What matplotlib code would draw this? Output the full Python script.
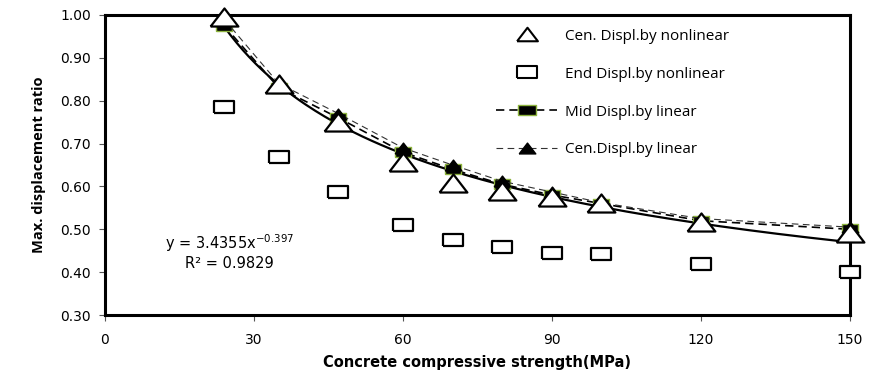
import numpy as np
import matplotlib.pyplot as plt
from matplotlib.lines import Line2D

# concrete strength (MPa) and displacement ratios
strength = [24, 35, 47, 60, 70, 80, 90, 100, 120, 150]
cen_nonlin = [0.995, 0.84, 0.75, 0.657, 0.608, 0.59, 0.575, 0.562, 0.518, 0.492]
end_nonlin = [0.785, 0.669, 0.587, 0.51, 0.476, 0.459, 0.445, 0.442, 0.418, 0.40]
mid_lin = [0.975, 0.83, 0.76, 0.68, 0.64, 0.605, 0.58, 0.56, 0.52, 0.50]
cen_lin = [0.99, 0.84, 0.77, 0.69, 0.65, 0.612, 0.587, 0.562, 0.525, 0.505]

# power trendline y = a*x^b
fit_a, fit_b = 3.4355, -0.397

fig = plt.figure(figsize=(8.69, 3.76), dpi=100)
ax = fig.add_axes([0.1208, 0.1622, 0.857, 0.798])

# stretched marker shapes
sq = [(-1, -0.6), (1, -0.6), (1, 0.6), (-1, 0.6), (-1, -0.6)]
tri = [(-1, -0.65), (1, -0.65), (0, 0.65), (-1, -0.65)]

xs = np.linspace(strength[0], strength[-1], 200)
ax.plot(xs, fit_a * xs ** fit_b, color='black', lw=1.6, zorder=2)

ax.plot(strength, mid_lin, ls=(0, (5, 3)), color='black', lw=1.2,
        marker=sq, ms=12, mfc='black', mec='#8db33e', mew=1.0, zorder=3,
        clip_on=False)
ax.plot(strength, cen_lin, ls=(0, (6, 4)), color='#333333', lw=0.8,
        marker=tri, ms=12, mfc='black', mec='black', zorder=3, clip_on=False)
ax.plot(strength, cen_nonlin, ls='none', marker=tri, ms=20,
        mfc='white', mec='black', mew=1.6, zorder=4, clip_on=False)
ax.plot(strength, end_nonlin, ls='none', marker=sq, ms=14,
        mfc='white', mec='black', mew=1.6, zorder=4, clip_on=False)

ax.set_xlim(0, 150)
ax.set_ylim(0.30, 1.00)
ax.set_xticks(np.arange(0, 151, 30))
ax.set_yticks(np.arange(0.30, 1.001, 0.10))
ax.set_yticklabels(['%.2f' % v for v in np.arange(0.30, 1.001, 0.10)])
ax.tick_params(labelsize=10, length=4, width=0.8, color='#555555', pad=6)
ax.tick_params(axis='x', pad=9)
for s in ax.spines.values():
    s.set_linewidth(2.2)

ax.set_xlabel('Concrete compressive strength(MPa)', fontsize=10.5,
              fontweight='bold', labelpad=6)
ax.set_ylabel('Max. displacement ratio', fontsize=10.5, fontweight='bold',
              family='Open Sans', labelpad=10)

ax.text(25, 0.468, r'y = 3.4355x$^{\mathregular{-0.397}}$', fontsize=10.5,
        ha='center', va='center')
ax.text(25, 0.421, 'R\u00b2 = 0.9829', fontsize=10.5, ha='center', va='center')

handles = [
    Line2D([], [], ls='none', marker=tri, ms=15, mfc='white', mec='black', mew=1.5),
    Line2D([], [], ls='none', marker=sq, ms=14, mfc='white', mec='black', mew=1.5),
    Line2D([], [], ls=(0, (5, 3)), color='black', lw=1.2, marker=sq, ms=13,
           mfc='black', mec='#8db33e', mew=1.0),
    Line2D([], [], ls=(0, (6, 4)), color='#333333', lw=0.8, marker=tri, ms=12,
           mfc='black', mec='black'),
]
labels = ['Cen. Displ.by nonlinear', 'End Displ.by nonlinear',
          'Mid Displ.by linear', 'Cen.Displ.by linear']
ax.legend(handles, labels, loc='upper left', bbox_to_anchor=(0.5066, 1.0),
          frameon=False, prop={'family': 'Open Sans', 'size': 11},
          handlelength=4.0, labelspacing=1.5, handletextpad=0.5)

fig.savefig('out.png', dpi=100)
